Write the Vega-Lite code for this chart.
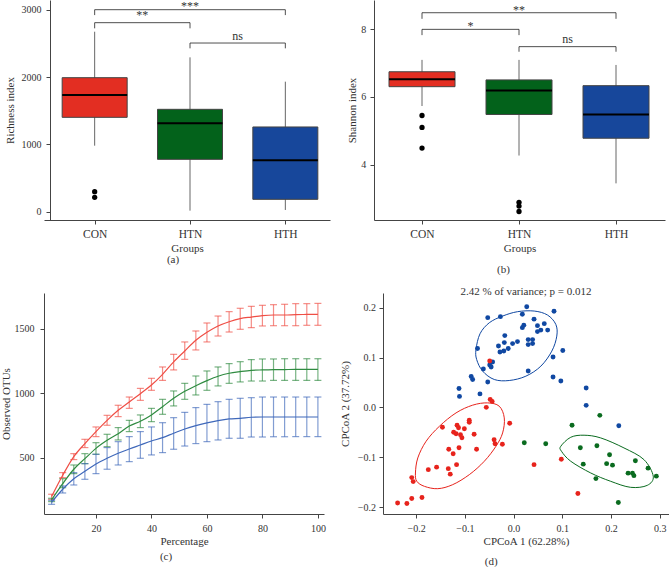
{
  "$schema": "https://vega.github.io/schema/vega-lite/v6.json",
  "padding": {"left": 0, "top": 0, "right": 0, "bottom": 0},
  "background": "white",
  "spacing": 11,
  "resolve": {"scale": {"color": "independent"}},
  "config": {
    "view": {"stroke": null},
    "font": "Liberation Serif",
    "axis": {"grid": false, "domainColor": "#444", "tickColor": "#444", "labelColor": "#333", "titleColor": "#333", "labelFont": "Liberation Serif", "titleFont": "Liberation Serif", "labelFontSize": 10, "titleFontSize": 11, "titleFontWeight": "normal", "tickSize": 4},
    "title": {"font": "Liberation Serif", "fontSize": 11, "fontWeight": "normal", "color": "#333"}
  },
  "datasets": {
    "richBox": [
      {"group": "CON", "lower": 980, "q1": 1401, "median": 1733, "q3": 1990, "upper": 2673},
      {"group": "HTN", "lower": 15, "q1": 777, "median": 1312, "q3": 1520, "upper": 2292},
      {"group": "HTH", "lower": 25, "q1": 183, "median": 762, "q3": 1258, "upper": 1931}
    ],
    "richOut": [
      {"group": "CON", "value": 297},
      {"group": "CON", "value": 213}
    ],
    "richBr": [
      {"from": "CON", "to": "HTH", "mid": "HTN", "y": 3000, "ylow": 2920, "ty": 2995, "label": "***"},
      {"from": "CON", "to": "HTN", "mid": "CON-HTN", "y": 2807, "ylow": 2723, "ty": 2855, "label": "**"},
      {"from": "HTN", "to": "HTH", "mid": "HTN-HTH", "y": 2505, "ylow": 2426, "ty": 2547, "label": "ns"}
    ],
    "shanBox": [
      {"group": "CON", "lower": 5.73, "q1": 6.30, "median": 6.52, "q3": 6.74, "upper": 7.09},
      {"group": "HTN", "lower": 4.27, "q1": 5.48, "median": 6.19, "q3": 6.50, "upper": 7.09},
      {"group": "HTH", "lower": 3.45, "q1": 4.78, "median": 5.48, "q3": 6.33, "upper": 6.94}
    ],
    "shanOut": [
      {"group": "CON", "value": 5.45},
      {"group": "CON", "value": 5.10},
      {"group": "CON", "value": 4.49},
      {"group": "HTN", "value": 2.89},
      {"group": "HTN", "value": 2.78},
      {"group": "HTN", "value": 2.62}
    ],
    "shanBr": [
      {"from": "CON", "to": "HTH", "mid": "HTN", "y": 8.48, "ylow": 8.30, "ty": 8.433, "label": "**"},
      {"from": "CON", "to": "HTN", "mid": "CON-HTN", "y": 7.99, "ylow": 7.82, "ty": 7.982, "label": "*"},
      {"from": "HTN", "to": "HTH", "mid": "HTN-HTH", "y": 7.48, "ylow": 7.33, "ty": 7.581, "label": "ns"}
    ],
    "rare": [
      {"group": "CON", "pct": 4, "mean": 198, "lo": 177, "hi": 216},
      {"group": "CON", "pct": 8, "mean": 363, "lo": 345, "hi": 384},
      {"group": "CON", "pct": 12, "mean": 508, "lo": 485, "hi": 531},
      {"group": "CON", "pct": 16, "mean": 609, "lo": 578, "hi": 642},
      {"group": "CON", "pct": 20, "mean": 702, "lo": 663, "hi": 738},
      {"group": "CON", "pct": 24, "mean": 789, "lo": 751, "hi": 828},
      {"group": "CON", "pct": 28, "mean": 867, "lo": 818, "hi": 906},
      {"group": "CON", "pct": 32, "mean": 932, "lo": 882, "hi": 970},
      {"group": "CON", "pct": 36, "mean": 996, "lo": 944, "hi": 1037},
      {"group": "CON", "pct": 40, "mean": 1063, "lo": 1022, "hi": 1115},
      {"group": "CON", "pct": 44, "mean": 1146, "lo": 1099, "hi": 1203},
      {"group": "CON", "pct": 48, "mean": 1242, "lo": 1180, "hi": 1301},
      {"group": "CON", "pct": 52, "mean": 1327, "lo": 1262, "hi": 1397},
      {"group": "CON", "pct": 56, "mean": 1410, "lo": 1335, "hi": 1482},
      {"group": "CON", "pct": 60, "mean": 1472, "lo": 1397, "hi": 1544},
      {"group": "CON", "pct": 64, "mean": 1521, "lo": 1443, "hi": 1598},
      {"group": "CON", "pct": 68, "mean": 1554, "lo": 1474, "hi": 1632},
      {"group": "CON", "pct": 72, "mean": 1578, "lo": 1495, "hi": 1658},
      {"group": "CON", "pct": 76, "mean": 1590, "lo": 1508, "hi": 1673},
      {"group": "CON", "pct": 80, "mean": 1601, "lo": 1521, "hi": 1681},
      {"group": "CON", "pct": 84, "mean": 1606, "lo": 1523, "hi": 1686},
      {"group": "CON", "pct": 88, "mean": 1606, "lo": 1523, "hi": 1689},
      {"group": "CON", "pct": 92, "mean": 1609, "lo": 1523, "hi": 1694},
      {"group": "CON", "pct": 96, "mean": 1610, "lo": 1526, "hi": 1694},
      {"group": "CON", "pct": 100, "mean": 1611, "lo": 1526, "hi": 1696},
      {"group": "HTN", "pct": 4, "mean": 172, "lo": 159, "hi": 185},
      {"group": "HTN", "pct": 8, "mean": 298, "lo": 267, "hi": 337},
      {"group": "HTN", "pct": 12, "mean": 410, "lo": 376, "hi": 443},
      {"group": "HTN", "pct": 16, "mean": 492, "lo": 453, "hi": 531},
      {"group": "HTN", "pct": 20, "mean": 572, "lo": 526, "hi": 616},
      {"group": "HTN", "pct": 24, "mean": 634, "lo": 585, "hi": 681},
      {"group": "HTN", "pct": 28, "mean": 686, "lo": 637, "hi": 733},
      {"group": "HTN", "pct": 32, "mean": 745, "lo": 702, "hi": 789},
      {"group": "HTN", "pct": 36, "mean": 782, "lo": 733, "hi": 831},
      {"group": "HTN", "pct": 40, "mean": 831, "lo": 779, "hi": 882},
      {"group": "HTN", "pct": 44, "mean": 895, "lo": 836, "hi": 952},
      {"group": "HTN", "pct": 48, "mean": 960, "lo": 901, "hi": 1017},
      {"group": "HTN", "pct": 52, "mean": 1014, "lo": 952, "hi": 1076},
      {"group": "HTN", "pct": 56, "mean": 1058, "lo": 986, "hi": 1133},
      {"group": "HTN", "pct": 60, "mean": 1097, "lo": 1022, "hi": 1172},
      {"group": "HTN", "pct": 64, "mean": 1131, "lo": 1056, "hi": 1203},
      {"group": "HTN", "pct": 68, "mean": 1154, "lo": 1076, "hi": 1229},
      {"group": "HTN", "pct": 72, "mean": 1167, "lo": 1087, "hi": 1244},
      {"group": "HTN", "pct": 76, "mean": 1177, "lo": 1094, "hi": 1260},
      {"group": "HTN", "pct": 80, "mean": 1180, "lo": 1094, "hi": 1265},
      {"group": "HTN", "pct": 84, "mean": 1182, "lo": 1099, "hi": 1265},
      {"group": "HTN", "pct": 88, "mean": 1183, "lo": 1099, "hi": 1267},
      {"group": "HTN", "pct": 92, "mean": 1184, "lo": 1099, "hi": 1267},
      {"group": "HTN", "pct": 96, "mean": 1184, "lo": 1099, "hi": 1267},
      {"group": "HTN", "pct": 100, "mean": 1185, "lo": 1099, "hi": 1267},
      {"group": "HTH", "pct": 4, "mean": 154, "lo": 138, "hi": 169},
      {"group": "HTH", "pct": 8, "mean": 255, "lo": 226, "hi": 280},
      {"group": "HTH", "pct": 12, "mean": 337, "lo": 288, "hi": 384},
      {"group": "HTH", "pct": 16, "mean": 394, "lo": 332, "hi": 454},
      {"group": "HTH", "pct": 20, "mean": 451, "lo": 376, "hi": 526},
      {"group": "HTH", "pct": 24, "mean": 495, "lo": 410, "hi": 578},
      {"group": "HTH", "pct": 28, "mean": 534, "lo": 443, "hi": 624},
      {"group": "HTH", "pct": 32, "mean": 567, "lo": 469, "hi": 663},
      {"group": "HTH", "pct": 36, "mean": 598, "lo": 495, "hi": 702},
      {"group": "HTH", "pct": 40, "mean": 629, "lo": 521, "hi": 738},
      {"group": "HTH", "pct": 44, "mean": 655, "lo": 539, "hi": 771},
      {"group": "HTH", "pct": 48, "mean": 689, "lo": 565, "hi": 810},
      {"group": "HTH", "pct": 52, "mean": 722, "lo": 590, "hi": 851},
      {"group": "HTH", "pct": 56, "mean": 748, "lo": 609, "hi": 888},
      {"group": "HTH", "pct": 60, "mean": 769, "lo": 624, "hi": 913},
      {"group": "HTH", "pct": 64, "mean": 787, "lo": 637, "hi": 934},
      {"group": "HTH", "pct": 68, "mean": 800, "lo": 650, "hi": 952},
      {"group": "HTH", "pct": 72, "mean": 805, "lo": 650, "hi": 960},
      {"group": "HTH", "pct": 76, "mean": 813, "lo": 660, "hi": 965},
      {"group": "HTH", "pct": 80, "mean": 815, "lo": 660, "hi": 970},
      {"group": "HTH", "pct": 84, "mean": 815, "lo": 662, "hi": 970},
      {"group": "HTH", "pct": 88, "mean": 815, "lo": 662, "hi": 970},
      {"group": "HTH", "pct": 92, "mean": 815, "lo": 663, "hi": 970},
      {"group": "HTH", "pct": 96, "mean": 815, "lo": 663, "hi": 970},
      {"group": "HTH", "pct": 100, "mean": 815, "lo": 663, "hi": 970}
    ],
    "pcoa": [
      {"group": "HTH", "x": -0.053, "y": 0.180}, {"group": "HTH", "x": -0.027, "y": 0.182},
      {"group": "HTH", "x": 0.027, "y": 0.202}, {"group": "HTH", "x": 0.018, "y": 0.187},
      {"group": "HTH", "x": 0.042, "y": 0.177}, {"group": "HTH", "x": 0.083, "y": 0.193},
      {"group": "HTH", "x": -0.074, "y": 0.118}, {"group": "HTH", "x": -0.018, "y": 0.144},
      {"group": "HTH", "x": -0.019, "y": 0.130}, {"group": "HTH", "x": -0.031, "y": 0.123},
      {"group": "HTH", "x": -0.028, "y": 0.111}, {"group": "HTH", "x": -0.020, "y": 0.113},
      {"group": "HTH", "x": -0.011, "y": 0.118}, {"group": "HTH", "x": -0.002, "y": 0.128},
      {"group": "HTH", "x": 0.008, "y": 0.132}, {"group": "HTH", "x": 0.018, "y": 0.160},
      {"group": "HTH", "x": 0.021, "y": 0.165}, {"group": "HTH", "x": 0.049, "y": 0.164},
      {"group": "HTH", "x": 0.063, "y": 0.168}, {"group": "HTH", "x": 0.056, "y": 0.155},
      {"group": "HTH", "x": 0.049, "y": 0.152}, {"group": "HTH", "x": 0.070, "y": 0.155},
      {"group": "HTH", "x": 0.030, "y": 0.136}, {"group": "HTH", "x": 0.039, "y": 0.136},
      {"group": "HTH", "x": 0.030, "y": 0.126}, {"group": "HTH", "x": 0.039, "y": 0.128},
      {"group": "HTH", "x": 0.081, "y": 0.101}, {"group": "HTH", "x": 0.101, "y": 0.114},
      {"group": "HTH", "x": -0.062, "y": 0.077}, {"group": "HTH", "x": -0.043, "y": 0.091},
      {"group": "HTH", "x": -0.049, "y": 0.085}, {"group": "HTH", "x": -0.046, "y": 0.081},
      {"group": "HTH", "x": -0.053, "y": 0.051}, {"group": "HTH", "x": 0.030, "y": 0.073},
      {"group": "HTH", "x": 0.081, "y": 0.061}, {"group": "HTH", "x": 0.097, "y": 0.053},
      {"group": "HTH", "x": -0.087, "y": 0.062}, {"group": "HTH", "x": -0.084, "y": 0.056},
      {"group": "HTH", "x": -0.112, "y": 0.038}, {"group": "HTH", "x": -0.111, "y": 0.022},
      {"group": "HTH", "x": -0.069, "y": 0.027}, {"group": "HTH", "x": 0.149, "y": 0.039},
      {"group": "HTH", "x": 0.149, "y": 0.004}, {"group": "HTH", "x": 0.216, "y": -0.037},
      {"group": "CON", "x": -0.048, "y": 0.016}, {"group": "CON", "x": -0.044, "y": 0.012},
      {"group": "CON", "x": -0.049, "y": 0.093}, {"group": "CON", "x": -0.056, "y": 0.000},
      {"group": "CON", "x": -0.008, "y": -0.032}, {"group": "CON", "x": -0.146, "y": -0.040},
      {"group": "CON", "x": -0.116, "y": -0.036}, {"group": "CON", "x": -0.113, "y": -0.041},
      {"group": "CON", "x": -0.101, "y": -0.043}, {"group": "CON", "x": -0.091, "y": -0.026},
      {"group": "CON", "x": -0.091, "y": -0.030}, {"group": "CON", "x": -0.123, "y": -0.050},
      {"group": "CON", "x": -0.118, "y": -0.053}, {"group": "CON", "x": -0.109, "y": -0.055},
      {"group": "CON", "x": -0.106, "y": -0.061}, {"group": "CON", "x": -0.081, "y": -0.054},
      {"group": "CON", "x": -0.133, "y": -0.084}, {"group": "CON", "x": -0.112, "y": -0.081},
      {"group": "CON", "x": -0.124, "y": -0.093}, {"group": "CON", "x": -0.076, "y": -0.084},
      {"group": "CON", "x": -0.040, "y": -0.065}, {"group": "CON", "x": -0.038, "y": -0.073},
      {"group": "CON", "x": -0.023, "y": -0.074}, {"group": "CON", "x": -0.117, "y": -0.115},
      {"group": "CON", "x": -0.158, "y": -0.120}, {"group": "CON", "x": -0.175, "y": -0.125},
      {"group": "CON", "x": -0.134, "y": -0.123}, {"group": "CON", "x": -0.130, "y": -0.134},
      {"group": "CON", "x": -0.209, "y": -0.141}, {"group": "CON", "x": -0.206, "y": -0.149},
      {"group": "CON", "x": -0.188, "y": -0.181}, {"group": "CON", "x": -0.209, "y": -0.183},
      {"group": "CON", "x": -0.238, "y": -0.192}, {"group": "CON", "x": -0.219, "y": -0.193},
      {"group": "CON", "x": 0.042, "y": -0.115}, {"group": "CON", "x": 0.098, "y": -0.104},
      {"group": "CON", "x": 0.132, "y": -0.173},
      {"group": "HTN", "x": 0.177, "y": -0.016}, {"group": "HTN", "x": 0.120, "y": -0.036},
      {"group": "HTN", "x": 0.022, "y": -0.071}, {"group": "HTN", "x": 0.066, "y": -0.073},
      {"group": "HTN", "x": 0.137, "y": -0.081}, {"group": "HTN", "x": 0.171, "y": -0.077},
      {"group": "HTN", "x": 0.197, "y": -0.095}, {"group": "HTN", "x": 0.143, "y": -0.114},
      {"group": "HTN", "x": 0.191, "y": -0.113}, {"group": "HTN", "x": 0.203, "y": -0.116},
      {"group": "HTN", "x": 0.250, "y": -0.107}, {"group": "HTN", "x": 0.276, "y": -0.122},
      {"group": "HTN", "x": 0.293, "y": -0.138}, {"group": "HTN", "x": 0.235, "y": -0.132},
      {"group": "HTN", "x": 0.244, "y": -0.132}, {"group": "HTN", "x": 0.247, "y": -0.137},
      {"group": "HTN", "x": 0.169, "y": -0.143}, {"group": "HTN", "x": 0.215, "y": -0.191}
    ],
    "ellipse": [
      {"group": "HTH", "i": 1, "x": -0.0771, "y": 0.1162}, {"group": "HTH", "i": 2, "x": -0.0689, "y": 0.1477},
      {"group": "HTH", "i": 3, "x": -0.0498, "y": 0.1698}, {"group": "HTH", "i": 4, "x": -0.0225, "y": 0.1832},
      {"group": "HTH", "i": 5, "x": 0.0082, "y": 0.1920}, {"group": "HTH", "i": 6, "x": 0.0423, "y": 0.1933},
      {"group": "HTH", "i": 7, "x": 0.0696, "y": 0.1853}, {"group": "HTH", "i": 8, "x": 0.0867, "y": 0.1665},
      {"group": "HTH", "i": 9, "x": 0.0887, "y": 0.1430}, {"group": "HTH", "i": 10, "x": 0.0785, "y": 0.1129},
      {"group": "HTH", "i": 11, "x": 0.0560, "y": 0.0827}, {"group": "HTH", "i": 12, "x": 0.0253, "y": 0.0626},
      {"group": "HTH", "i": 13, "x": -0.0089, "y": 0.0539}, {"group": "HTH", "i": 14, "x": -0.0396, "y": 0.0559},
      {"group": "HTH", "i": 15, "x": -0.0635, "y": 0.0727}, {"group": "HTH", "i": 16, "x": -0.0758, "y": 0.0961},
      {"group": "CON", "i": 1, "x": -0.2014, "y": -0.1317}, {"group": "CON", "i": 2, "x": -0.1966, "y": -0.1015},
      {"group": "CON", "i": 3, "x": -0.1795, "y": -0.0680}, {"group": "CON", "i": 4, "x": -0.1522, "y": -0.0379},
      {"group": "CON", "i": 5, "x": -0.1181, "y": -0.0111}, {"group": "CON", "i": 6, "x": -0.0840, "y": 0.0044},
      {"group": "CON", "i": 7, "x": -0.0532, "y": 0.0090}, {"group": "CON", "i": 8, "x": -0.0294, "y": 0.0023},
      {"group": "CON", "i": 9, "x": -0.0191, "y": -0.0211}, {"group": "CON", "i": 10, "x": -0.0225, "y": -0.0513},
      {"group": "CON", "i": 11, "x": -0.0362, "y": -0.0781}, {"group": "CON", "i": 12, "x": -0.0601, "y": -0.1082},
      {"group": "CON", "i": 13, "x": -0.0908, "y": -0.1350}, {"group": "CON", "i": 14, "x": -0.1249, "y": -0.1551},
      {"group": "CON", "i": 15, "x": -0.1556, "y": -0.1632}, {"group": "CON", "i": 16, "x": -0.1829, "y": -0.1585},
      {"group": "CON", "i": 17, "x": -0.1986, "y": -0.1484},
      {"group": "HTN", "i": 1, "x": 0.0969, "y": -0.0781}, {"group": "HTN", "i": 2, "x": 0.1174, "y": -0.0600},
      {"group": "HTN", "i": 3, "x": 0.1447, "y": -0.0559}, {"group": "HTN", "i": 4, "x": 0.1788, "y": -0.0613},
      {"group": "HTN", "i": 5, "x": 0.2266, "y": -0.0814}, {"group": "HTN", "i": 6, "x": 0.2676, "y": -0.1049},
      {"group": "HTN", "i": 7, "x": 0.2867, "y": -0.1384}, {"group": "HTN", "i": 8, "x": 0.2744, "y": -0.1565},
      {"group": "HTN", "i": 9, "x": 0.2403, "y": -0.1605}, {"group": "HTN", "i": 10, "x": 0.1993, "y": -0.1484},
      {"group": "HTN", "i": 11, "x": 0.1584, "y": -0.1317}, {"group": "HTN", "i": 12, "x": 0.1174, "y": -0.1082},
      {"group": "HTN", "i": 13, "x": 0.0983, "y": -0.0881}
    ]
  },
  "vconcat": [
    {
      "hconcat": [
        {
          "width": 286, "height": 220,
          "title": {"text": "(a)", "orient": "bottom", "anchor": "middle", "dx": -14, "offset": 0},
          "layer": [
            {"data": {"name": "richBox"}, "mark": {"type": "rule", "color": "#666", "strokeWidth": 1},
             "encoding": {
               "x": {"field": "group", "type": "nominal", "title": "Groups", "scale": {"type": "point", "domain": ["CON", "CON-HTN", "HTN", "HTN-HTH", "HTH"], "padding": 1.2686, "align": 0.5315}, "axis": {"values": ["CON", "HTN", "HTH"], "labelFontSize": 11.5, "labelPadding": 4, "titlePadding": 3, "labelAngle": 0}},
               "y": {"field": "lower", "type": "quantitative", "title": "Richness index", "scale": {"domain": [-124, 3144], "nice": false, "zero": false}, "axis": {"values": [0, 1000, 2000, 3000], "format": "d", "offset": -6, "labelPadding": 5, "titlePadding": 6}},
               "y2": {"field": "upper"}}},
            {"data": {"name": "richBox"}, "mark": {"type": "bar", "size": 65, "stroke": "#444", "strokeWidth": 1},
             "encoding": {
               "x": {"field": "group", "type": "nominal", "title": "Groups"},
               "y": {"field": "q1", "type": "quantitative", "title": "Richness index"},
               "y2": {"field": "q3"},
               "color": {"field": "group", "type": "nominal", "scale": {"domain": ["CON", "HTN", "HTH"], "range": ["#E32E22", "#03621B", "#17479B"]}, "legend": null}}},
            {"data": {"name": "richBox"}, "mark": {"type": "tick", "size": 65, "thickness": 2, "color": "#000", "opacity": 1},
             "encoding": {
               "x": {"field": "group", "type": "nominal", "title": "Groups"},
               "y": {"field": "median", "type": "quantitative", "title": "Richness index"}}},
            {"data": {"name": "richOut"}, "mark": {"type": "circle", "size": 28, "color": "#000", "opacity": 1},
             "encoding": {
               "x": {"field": "group", "type": "nominal", "title": "Groups"},
               "y": {"field": "value", "type": "quantitative", "title": "Richness index"}}},
            {"data": {"name": "richBr"}, "mark": {"type": "rule", "color": "#222", "strokeWidth": 0.8},
             "encoding": {
               "x": {"field": "from", "type": "nominal", "title": "Groups"},
               "x2": {"field": "to"},
               "y": {"field": "y", "type": "quantitative", "title": "Richness index"}}},
            {"data": {"name": "richBr"}, "mark": {"type": "rule", "color": "#222", "strokeWidth": 0.8},
             "encoding": {
               "x": {"field": "from", "type": "nominal", "title": "Groups"},
               "y": {"field": "y", "type": "quantitative", "title": "Richness index"},
               "y2": {"field": "ylow"}}},
            {"data": {"name": "richBr"}, "mark": {"type": "rule", "color": "#222", "strokeWidth": 0.8},
             "encoding": {
               "x": {"field": "to", "type": "nominal", "title": "Groups"},
               "y": {"field": "y", "type": "quantitative", "title": "Richness index"},
               "y2": {"field": "ylow"}}},
            {"data": {"name": "richBr"}, "mark": {"type": "text", "baseline": "alphabetic", "align": "center", "fontSize": 12, "font": "Liberation Serif", "color": "#333"},
             "encoding": {
               "x": {"field": "mid", "type": "nominal", "title": "Groups"},
               "y": {"field": "ty", "type": "quantitative", "title": "Richness index"},
               "text": {"field": "label"}}}
          ]
        },
        {
          "width": 291, "height": 220,
          "title": {"text": "(b)", "orient": "bottom", "anchor": "middle", "dx": -16, "offset": 10},
          "layer": [
            {"data": {"name": "shanBox"}, "mark": {"type": "rule", "color": "#666", "strokeWidth": 1},
             "encoding": {
               "x": {"field": "group", "type": "nominal", "title": "Groups", "scale": {"type": "point", "domain": ["CON", "CON-HTN", "HTN", "HTN-HTH", "HTH"], "padding": 1.198, "align": 0.495}, "axis": {"values": ["CON", "HTN", "HTH"], "labelFontSize": 11.5, "labelPadding": 4, "titlePadding": 3, "labelAngle": 0}},
               "y": {"field": "lower", "type": "quantitative", "title": "Shannon index", "scale": {"domain": [2.37, 8.855], "nice": false, "zero": false}, "axis": {"values": [4, 6, 8], "labelPadding": 4.3, "titlePadding": 3.5}},
               "y2": {"field": "upper"}}},
            {"data": {"name": "shanBox"}, "mark": {"type": "bar", "size": 66, "stroke": "#444", "strokeWidth": 1},
             "encoding": {
               "x": {"field": "group", "type": "nominal", "title": "Groups"},
               "y": {"field": "q1", "type": "quantitative", "title": "Shannon index"},
               "y2": {"field": "q3"},
               "color": {"field": "group", "type": "nominal", "scale": {"domain": ["CON", "HTN", "HTH"], "range": ["#E32E22", "#03621B", "#17479B"]}, "legend": null}}},
            {"data": {"name": "shanBox"}, "mark": {"type": "tick", "size": 66, "thickness": 2, "color": "#000", "opacity": 1},
             "encoding": {
               "x": {"field": "group", "type": "nominal", "title": "Groups"},
               "y": {"field": "median", "type": "quantitative", "title": "Shannon index"}}},
            {"data": {"name": "shanOut"}, "mark": {"type": "circle", "size": 28, "color": "#000", "opacity": 1},
             "encoding": {
               "x": {"field": "group", "type": "nominal", "title": "Groups"},
               "y": {"field": "value", "type": "quantitative", "title": "Shannon index"}}},
            {"data": {"name": "shanBr"}, "mark": {"type": "rule", "color": "#222", "strokeWidth": 0.8},
             "encoding": {
               "x": {"field": "from", "type": "nominal", "title": "Groups"},
               "x2": {"field": "to"},
               "y": {"field": "y", "type": "quantitative", "title": "Shannon index"}}},
            {"data": {"name": "shanBr"}, "mark": {"type": "rule", "color": "#222", "strokeWidth": 0.8},
             "encoding": {
               "x": {"field": "from", "type": "nominal", "title": "Groups"},
               "y": {"field": "y", "type": "quantitative", "title": "Shannon index"},
               "y2": {"field": "ylow"}}},
            {"data": {"name": "shanBr"}, "mark": {"type": "rule", "color": "#222", "strokeWidth": 0.8},
             "encoding": {
               "x": {"field": "to", "type": "nominal", "title": "Groups"},
               "y": {"field": "y", "type": "quantitative", "title": "Shannon index"},
               "y2": {"field": "ylow"}}},
            {"data": {"name": "shanBr"}, "mark": {"type": "text", "baseline": "alphabetic", "align": "center", "fontSize": 12, "font": "Liberation Serif", "color": "#333"},
             "encoding": {
               "x": {"field": "mid", "type": "nominal", "title": "Groups"},
               "y": {"field": "ty", "type": "quantitative", "title": "Shannon index"},
               "text": {"field": "label"}}}
          ]
        }
      ],
      "spacing": 44,
      "bounds": "flush",
      "resolve": {"scale": {"color": "independent"}}
    },
    {
      "hconcat": [
        {
          "width": 280, "height": 221,
          "title": {"text": "(c)", "orient": "bottom", "anchor": "middle", "dx": -18, "offset": 4},
          "data": {"name": "rare"},
          "layer": [
            {"mark": {"type": "rule", "strokeWidth": 1.2, "opacity": 0.65},
             "encoding": {
               "x": {"field": "pct", "type": "quantitative", "title": "Percentage", "scale": {"domain": [1.26, 102.2], "nice": false, "zero": false}, "axis": {"values": [20, 40, 60, 80, 100], "labelPadding": 5, "titlePadding": 2.5}},
               "y": {"field": "lo", "type": "quantitative", "title": "Observed OTUs", "scale": {"domain": [63, 1776.5], "nice": false, "zero": false}, "axis": {"values": [500, 1000, 1500], "format": "d", "labelPadding": 6, "titlePadding": 2.5}},
               "y2": {"field": "hi"},
               "color": {"field": "group", "type": "nominal", "scale": {"domain": ["CON", "HTN", "HTH"], "range": ["#EF4E45", "#2F8B40", "#3F68BA"]}, "legend": null}}},
            {"mark": {"type": "tick", "orient": "horizontal", "size": 7, "thickness": 1.2, "opacity": 0.65},
             "encoding": {
               "x": {"field": "pct", "type": "quantitative", "title": "Percentage"},
               "y": {"field": "lo", "type": "quantitative", "title": "Observed OTUs"},
               "color": {"field": "group", "type": "nominal", "legend": null}}},
            {"mark": {"type": "tick", "orient": "horizontal", "size": 7, "thickness": 1.2, "opacity": 0.65},
             "encoding": {
               "x": {"field": "pct", "type": "quantitative", "title": "Percentage"},
               "y": {"field": "hi", "type": "quantitative", "title": "Observed OTUs"},
               "color": {"field": "group", "type": "nominal", "legend": null}}},
            {"mark": {"type": "line", "strokeWidth": 1.2, "interpolate": "monotone"},
             "encoding": {
               "x": {"field": "pct", "type": "quantitative", "title": "Percentage"},
               "y": {"field": "mean", "type": "quantitative", "title": "Observed OTUs"},
               "color": {"field": "group", "type": "nominal", "legend": null}}}
          ]
        },
        {
          "title": {"text": "(d)", "orient": "bottom", "anchor": "middle", "dx": -13, "offset": 9},
          "vconcat": [
            {
              "width": 286, "height": 221,
              "title": {"text": "2.42 % of variance; p = 0.012", "anchor": "middle", "offset": -4},
              "layer": [
                {"data": {"name": "pcoa"}, "mark": {"type": "circle", "size": 24, "opacity": 1},
                 "encoding": {
                   "x": {"field": "x", "type": "quantitative", "title": "CPCoA 1 (62.28%)", "scale": {"domain": [-0.268, 0.319], "nice": false, "zero": false}, "axis": {"values": [-0.2, -0.1, 0, 0.1, 0.2, 0.3], "format": ".1f", "labelPadding": 5, "titlePadding": 2.5}},
                   "y": {"field": "y", "type": "quantitative", "title": "CPCoA 2 (37.72%)", "scale": {"domain": [-0.214, 0.2295], "nice": false, "zero": false}, "axis": {"values": [-0.2, -0.1, 0, 0.1, 0.2], "format": ".1f", "labelPadding": 3.5, "titlePadding": 7}},
                   "color": {"field": "group", "type": "nominal", "scale": {"domain": ["CON", "HTN", "HTH"], "range": ["#E7231C", "#0A6B1F", "#1048A2"]}, "legend": null}}},
                {"data": {"name": "ellipse"}, "mark": {"type": "line", "strokeWidth": 1, "interpolate": "cardinal-closed"},
                 "encoding": {
                   "x": {"field": "x", "type": "quantitative", "title": "CPCoA 1 (62.28%)"},
                   "y": {"field": "y", "type": "quantitative", "title": "CPCoA 2 (37.72%)"},
                   "order": {"field": "i", "type": "quantitative"},
                   "color": {"field": "group", "type": "nominal", "legend": null}}}
              ]
            }
          ]
        }
      ],
      "spacing": 59,
      "bounds": "flush",
      "resolve": {"scale": {"color": "independent"}}
    }
  ]
}
